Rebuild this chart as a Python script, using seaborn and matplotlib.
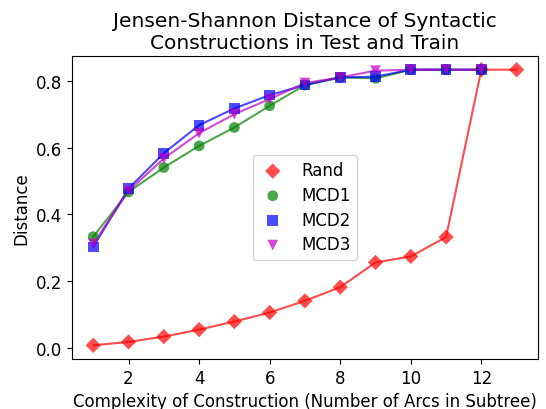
import numpy as np
import pandas as pd
import matplotlib
matplotlib.use('Agg')
import matplotlib.pyplot as plt
import seaborn as sns

# Values
complexity_rand = [1, 2, 3, 4, 5, 6, 7, 8, 9, 10, 11, 12, 13]
rand = [0.008, 0.018, 0.034, 0.055, 0.079, 0.106, 0.141, 0.182, 0.256, 0.274, 0.332, 0.833, 0.833]

complexity_mcd = [1, 2, 3, 4, 5, 6, 7, 8, 9, 10, 11, 12]
mcd1 = [0.333, 0.467, 0.540, 0.605, 0.660, 0.725, 0.787, 0.810, 0.807, 0.833, 0.833, 0.833]
mcd2 = [0.302, 0.477, 0.583, 0.667, 0.717, 0.757, 0.787, 0.810, 0.812, 0.833, 0.833, 0.833]
mcd3 = [0.312, 0.470, 0.567, 0.643, 0.700, 0.745, 0.793, 0.810, 0.830, 0.833, 0.833, 0.833]

series = [
    ('Rand', complexity_rand, rand, '#ff0000', 'D'),
    ('MCD1', complexity_mcd, mcd1, 'g', 'o'),
    ('MCD2', complexity_mcd, mcd2, 'b', 's'),
    ('MCD3', complexity_mcd, mcd3, 'm', 'v'),
]

sns.set_style('ticks')
plt.rcParams['font.family'] = ['DejaVu Sans']
plt.rcParams.update({
    'text.color': 'black',
    'axes.labelcolor': 'black',
    'xtick.color': 'black',
    'ytick.color': 'black',
    'axes.edgecolor': 'black',
    'xtick.major.size': 3.5,
    'ytick.major.size': 3.5,
})

fig, ax = plt.subplots(figsize=(5.46, 4.10), dpi=100)

for name, xs, ys, color, marker in series:
    df = pd.DataFrame({'x': xs, 'y': ys})
    sns.lineplot(data=df, x='x', y='y', color=color, alpha=0.7, linewidth=1.5, ax=ax)
    sns.scatterplot(data=df, x='x', y='y', color=color, marker=marker, s=60,
                    alpha=0.7, edgecolor='none', label=name, ax=ax, zorder=3)

ax.set_title('Jensen-Shannon Distance of Syntactic\nConstructions in Test and Train', fontsize=14.5)
ax.set_xlabel('Complexity of Construction (Number of Arcs in Subtree)', fontsize=12)
ax.set_ylabel('Distance', fontsize=12)
ax.set_xticks([2, 4, 6, 8, 10, 12])
ax.set_yticks([0.0, 0.2, 0.4, 0.6, 0.8])
ax.tick_params(labelsize=12)
ax.set_xlim(0.4, 13.6)
ax.set_ylim(-0.033, 0.874)
for s in ax.spines.values():
    s.set_visible(True)

leg = ax.legend(loc='center', fontsize=12, frameon=True, borderpad=0.4,
                handletextpad=0.9, handlelength=1.6, labelspacing=0.4)
leg.get_frame().set_edgecolor('#cccccc')

plt.subplots_adjust(left=0.132, right=0.985, top=0.861, bottom=0.122)
plt.savefig('out.png', dpi=100)
plt.close()
